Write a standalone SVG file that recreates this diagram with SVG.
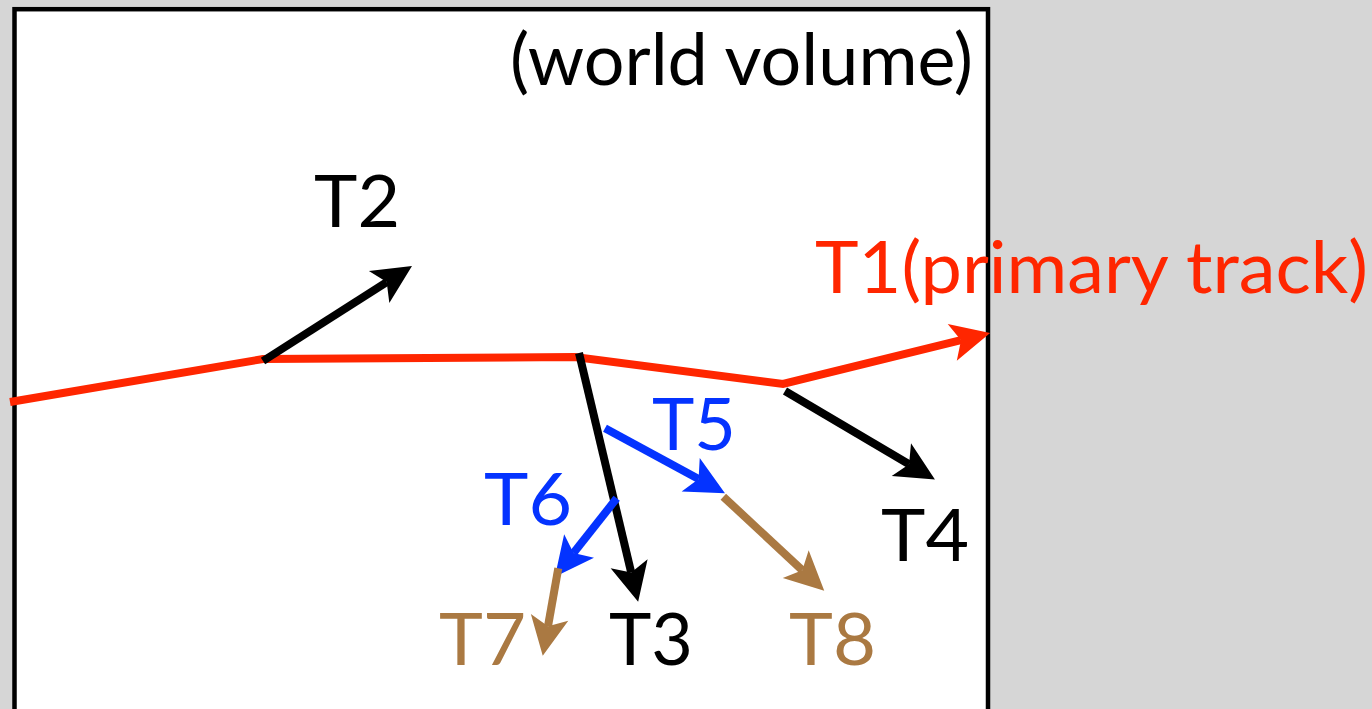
<svg xmlns="http://www.w3.org/2000/svg" width="1372" height="709" viewBox="0 0 1372 709">
  <style>
    .lbl { font-family: Lato, "Open Sans", "Liberation Sans", sans-serif; font-size: 72px; }
    .blk { fill: #000000; }
    .red { fill: #ff2600; }
    .blu { fill: #0433ff; }
    .brn { fill: #aa7942; }
    .trk { fill: none; stroke-width: 8; stroke-linecap: butt; stroke-linejoin: miter; }
  </style>
  <defs>
    <!-- concave arrowhead; origin sits at the notch, tip 30px ahead -->
    <marker id="ah-black" markerUnits="userSpaceOnUse" markerWidth="60" markerHeight="60" refX="0" refY="0" viewBox="-15 -30 60 60" orient="auto" overflow="visible">
      <path d="M30,0 L-9,-19 L0,0 L-9,19 Z" fill="#000000"/>
    </marker>
    <marker id="ah-red" markerUnits="userSpaceOnUse" markerWidth="60" markerHeight="60" refX="0" refY="0" viewBox="-15 -30 60 60" orient="auto" overflow="visible">
      <path d="M30,0 L-9,-19 L0,0 L-9,19 Z" fill="#ff2600"/>
    </marker>
    <marker id="ah-blue" markerUnits="userSpaceOnUse" markerWidth="60" markerHeight="60" refX="0" refY="0" viewBox="-15 -30 60 60" orient="auto" overflow="visible">
      <path d="M30,0 L-9,-19 L0,0 L-9,19 Z" fill="#0433ff"/>
    </marker>
    <marker id="ah-brown" markerUnits="userSpaceOnUse" markerWidth="60" markerHeight="60" refX="0" refY="0" viewBox="-15 -30 60 60" orient="auto" overflow="visible">
      <path d="M30,0 L-9,-19 L0,0 L-9,19 Z" fill="#aa7942"/>
    </marker>
  </defs>

  <!-- backdrop and world volume frame -->
  <rect x="0" y="0" width="1372" height="709" fill="#d6d6d6"/>
  <g id="world">
    <rect x="14.5" y="9.2" width="973.5" height="740" fill="#ffffff" stroke="#000000" stroke-width="4.5"/>
    <text class="lbl blk" x="510" y="85" textLength="463" lengthAdjust="spacingAndGlyphs">(world volume)</text>
  </g>

  <!-- tracks -->
  <g id="connectors">
    <!-- T1 primary track -->
    <polyline class="trk" stroke="#ff2600" points="10,402 263,359 575,357 783,384 961,340.2" marker-end="url(#ah-red)"/>
    <!-- T2 -->
    <line class="trk" stroke="#000000" x1="263" y1="361" x2="386.7" y2="282.1" marker-end="url(#ah-black)"/>
    <!-- T3 -->
    <line class="trk" stroke="#000000" x1="579" y1="353" x2="631.2" y2="572.5" marker-end="url(#ah-black)"/>
    <!-- T4 -->
    <line class="trk" stroke="#000000" x1="785" y1="391" x2="909.1" y2="464.2" marker-end="url(#ah-black)"/>
    <!-- T5 -->
    <line class="trk" stroke="#0433ff" x1="605" y1="428.3" x2="698.6" y2="479" marker-end="url(#ah-blue)"/>
    <!-- T6 -->
    <line class="trk" stroke="#0433ff" x1="616.7" y1="498.3" x2="573.5" y2="553.1" marker-end="url(#ah-blue)"/>
    <!-- T7 -->
    <line class="trk" stroke="#aa7942" x1="558.3" y1="568.3" x2="548" y2="626.2" marker-end="url(#ah-brown)"/>
    <!-- T8 -->
    <line class="trk" stroke="#aa7942" x1="723.3" y1="496.7" x2="802.3" y2="570.3" marker-end="url(#ah-brown)"/>
  </g>

  <!-- track labels -->
  <g id="T1"><text class="lbl red" x="815" y="293" textLength="553" lengthAdjust="spacingAndGlyphs">T1(primary track)</text></g>
  <g id="T2"><text class="lbl blk" x="314" y="227" textLength="86" lengthAdjust="spacingAndGlyphs">T2</text></g>
  <g id="T3"><text class="lbl blk" x="609" y="665" textLength="84" lengthAdjust="spacingAndGlyphs">T3</text></g>
  <g id="T4"><text class="lbl blk" x="881" y="561" textLength="88" lengthAdjust="spacingAndGlyphs">T4</text></g>
  <g id="T5"><text class="lbl blu" x="652" y="450" textLength="84" lengthAdjust="spacingAndGlyphs">T5</text></g>
  <g id="T6"><text class="lbl blu" x="484" y="525" textLength="88" lengthAdjust="spacingAndGlyphs">T6</text></g>
  <g id="T7"><text class="lbl brn" x="439" y="665" textLength="87" lengthAdjust="spacingAndGlyphs">T7</text></g>
  <g id="T8"><text class="lbl brn" x="789" y="665" textLength="87" lengthAdjust="spacingAndGlyphs">T8</text></g>
</svg>
